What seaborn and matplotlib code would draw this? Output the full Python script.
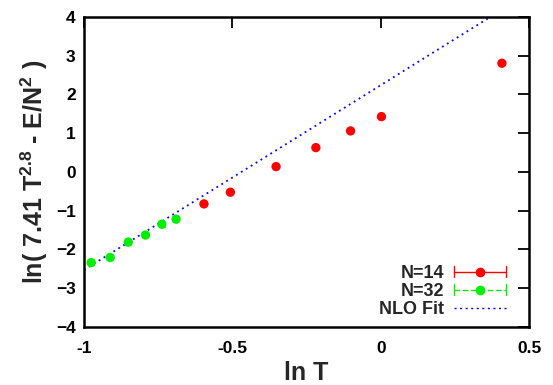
import matplotlib
matplotlib.use("Agg")
import matplotlib.pyplot as plt
import seaborn as sns
import pandas as pd
from matplotlib.legend_handler import HandlerBase
from matplotlib.lines import Line2D

# Data
n14_x = [-0.596, -0.507, -0.353, -0.219, -0.102, 0.002, 0.408]
n14_y = [-0.826, -0.524, 0.137, 0.627, 1.058, 1.427, 2.805]
n14_err = [0.03, 0.03, 0.03, 0.03, 0.03, 0.03, 0.03]
n32_x = [-0.976, -0.912, -0.851, -0.793, -0.738, -0.690]
n32_y = [-2.34, -2.21, -1.81, -1.63, -1.35, -1.22]
n32_err = [0.06, 0.05, 0.08, 0.06, 0.06, 0.04]
fit_x = [-1.0, 0.5]
fit_y = [-2.53, 4.625]

x_ticks = [-1, -0.5, 0, 0.5]
x_ticklabels = ["-1", "-0.5", "0", "0.5"]
y_ticks = [-4, -3, -2, -1, 0, 1, 2, 3, 4]

sns.set_style("white")
plt.rcParams['font.family'] = ['Liberation Sans', 'DejaVu Sans']
plt.rcParams['font.weight'] = 'bold'
plt.rcParams['mathtext.fontset'] = 'custom'
plt.rcParams['mathtext.rm'] = 'Liberation Sans:bold'
plt.rcParams['mathtext.bf'] = 'Liberation Sans:bold'
plt.rcParams['mathtext.default'] = 'bf'

RED = '#ff0000'
GREEN = '#00ee00'
BLUE = '#0000ff'

fig = plt.figure(figsize=(5.53, 3.85), dpi=100)
ax = fig.add_axes([0.152, 0.151, 0.805, 0.805])

df14 = pd.DataFrame({'x': n14_x, 'y': n14_y})
df32 = pd.DataFrame({'x': n32_x, 'y': n32_y})

sns.lineplot(x=fit_x, y=fit_y, ax=ax, color=BLUE, linestyle=(0, (1, 2.2)), linewidth=1.3, zorder=1)
ax.errorbar(n14_x, n14_y, yerr=n14_err, fmt='none', ecolor=RED, elinewidth=1, capsize=2, zorder=2)
ax.errorbar(n32_x, n32_y, yerr=n32_err, fmt='none', ecolor=GREEN, elinewidth=1, capsize=2, zorder=2)
sns.scatterplot(data=df14, x='x', y='y', ax=ax, color=RED, s=45, edgecolor='none', zorder=3)
sns.scatterplot(data=df32, x='x', y='y', ax=ax, color=GREEN, s=45, edgecolor='none', zorder=3)

ax.set_xlim(-1, 0.5)
ax.set_ylim(-4, 4)
ax.set_xticks(x_ticks)
ax.set_xticklabels(x_ticklabels)
ax.set_yticks(y_ticks)
ax.tick_params(direction='in', length=8, width=1.3, top=True, right=True,
               labelsize=12.5, colors='black')
ax.tick_params(axis='y', pad=6)
ax.tick_params(axis='x', pad=10)
for lab in ax.get_xticklabels() + ax.get_yticklabels():
    lab.set_fontweight('bold')
for s in ax.spines.values():
    s.set_linewidth(1.8)
    s.set_color('black')

ax.set_xlabel('ln T', fontsize=18, fontweight='bold', labelpad=4)
ax.set_ylabel(r'ln( 7.41 T$^{2.8}$ - E/N$^{2}$ )', fontsize=18, fontweight='bold', labelpad=4)


class ErrHandler(HandlerBase):
    def __init__(self, color, ls, dot=True):
        super().__init__()
        self.color = color
        self.ls = ls
        self.dot = dot

    def create_artists(self, legend, orig_handle, xdescent, ydescent, width, height, fontsize, trans):
        y = height / 2 - ydescent
        x0, x1 = -xdescent, -xdescent + width
        arts = [Line2D([x0, x1], [y, y], color=self.color, linestyle=self.ls, linewidth=1, transform=trans)]
        if self.dot:
            cap = 4
            arts.append(Line2D([x0, x0], [y - cap, y + cap], color=self.color, linewidth=1, transform=trans))
            arts.append(Line2D([x1, x1], [y - cap, y + cap], color=self.color, linewidth=1, transform=trans))
            arts.append(Line2D([(x0 + x1) / 2], [y], marker='o', markersize=7, color=self.color,
                               markeredgecolor='none', linestyle='none', transform=trans))
        return arts


h1, h2, h3 = object(), object(), object()
leg = ax.legend([h1, h2, h3], ['N=14', 'N=32', 'NLO Fit'],
                handler_map={h1: ErrHandler(RED, '-'),
                             h2: ErrHandler(GREEN, (0, (4, 2))),
                             h3: ErrHandler(BLUE, (0, (1.5, 2.5)), dot=False)},
                loc='lower right', bbox_to_anchor=(0.948, 0.029), frameon=False,
                markerfirst=False, handlelength=2.9, handletextpad=0.55,
                borderpad=0, borderaxespad=0,
                labelspacing=0.05, prop={'weight': 'bold', 'size': 13})
for t in leg.get_texts():
    t.set_ha('right')

fig.savefig('out.png', dpi=100)
